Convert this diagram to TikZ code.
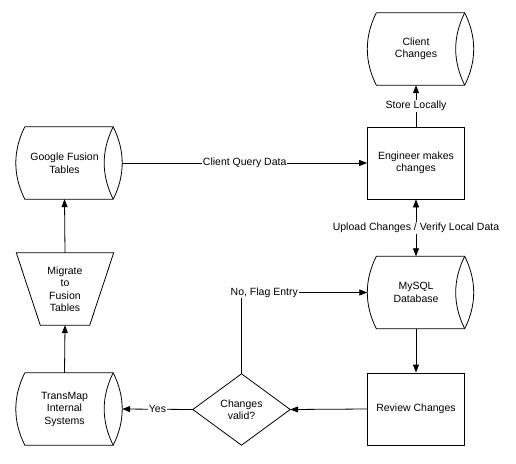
\documentclass[tikz,border=0pt]{standalone}
\usepackage{fontspec}
\setmainfont{Liberation Sans}
\usetikzlibrary{arrows.meta,calc}
\tikzset{
  base/.style={minimum width=97pt,minimum height=72pt,inner sep=0pt,align=center,font=\fontsize{10.5}{12.5}\selectfont},
  storebox/.style={base},
  procbox/.style={base,draw,line width=0.8pt},
  decbox/.style={base,minimum height=71pt},
  shapeline/.style={line width=0.8pt},
  conn/.style={line width=0.8pt,-{Triangle[length=8pt,width=6pt]}},
  dconn/.style={line width=0.8pt,{Triangle[length=8pt,width=6pt]}-{Triangle[length=8pt,width=6pt]}},
  lbl/.style={fill=white,inner sep=1pt,font=\fontsize{10.5}{12.5}\selectfont},
}
\newcommand{\storageshape}[1]{%
  \draw[shapeline] ([xshift=9pt]#1.north west) -- (#1.north east)
     .. controls ([xshift=12pt,yshift=-24pt]#1.north east) and ([xshift=12pt,yshift=24pt]#1.south east) .. (#1.south east)
     -- ([xshift=9pt]#1.south west)
     .. controls ([xshift=-3pt,yshift=24pt]#1.south west) and ([xshift=-3pt,yshift=-24pt]#1.north west) .. ([xshift=9pt]#1.north west);
  \draw[shapeline] (#1.north east) .. controls ([xshift=-12pt,yshift=-24pt]#1.north east) and ([xshift=-12pt,yshift=24pt]#1.south east) .. (#1.south east);
}
\begin{document}
\begin{tikzpicture}[x=1pt,y=-1pt]
\useasboundingbox (0,0) rectangle (516,463);
% nodes
\node[storebox] (cc) at (416,49) {Client\\Changes};
\node[procbox] (eng) at (416,163) {Engineer makes\\changes};
\node[storebox] (gft) at (64.5,163) {Google Fusion\\Tables};
\node[storebox] (mig) at (65,289) {Migrate\\to\\Fusion\\Tables};
\node[storebox] (mysql) at (416,292.5) {MySQL\\Database};
\node[procbox] (rev) at (416,409) {Review Changes};
\node[storebox] (tm) at (64.5,409) {TransMap\\Internal\\Systems};
\node[decbox] (dec) at (241.5,409.5) {Changes\\valid?};
% shapes
\storageshape{cc}
\storageshape{gft}
\storageshape{mysql}
\storageshape{tm}
\draw[shapeline] (mig.north west) -- (mig.north east) -- ([xshift=-24pt]mig.south east) -- ([xshift=24pt]mig.south west) -- cycle;
\draw[shapeline] (dec.north) -- (dec.east) -- (dec.south) -- (dec.west) -- cycle;
% connectors
\draw[conn] (eng.north) -- node[lbl] (lstore) {Store Locally} (cc.south);
\draw[conn] ([xshift=9pt]gft.east) -- node[lbl] (lquery) {Client Query Data} (eng.west);
\draw[dconn] (eng.south) -- node[lbl] (lupload) {Upload Changes / Verify Local Data} (mysql.north);
\draw[conn] (mysql.south) -- (rev.north);
\draw[conn] (rev.west) -- (dec.east);
\draw[conn] (dec.west) -- node[lbl] (lyes) {Yes} ([xshift=9pt]tm.east);
\draw[conn] (tm.north) -- (mig.south);
\draw[conn] (mig.north) -- (gft.south);
\draw[conn] (dec.north) |- coordinate[pos=0.5] (flagc) (mysql.west);
\node[lbl,anchor=west] (lflag) at ([xshift=-12pt]flagc) {No, Flag Entry};
\end{tikzpicture}
\end{document}
